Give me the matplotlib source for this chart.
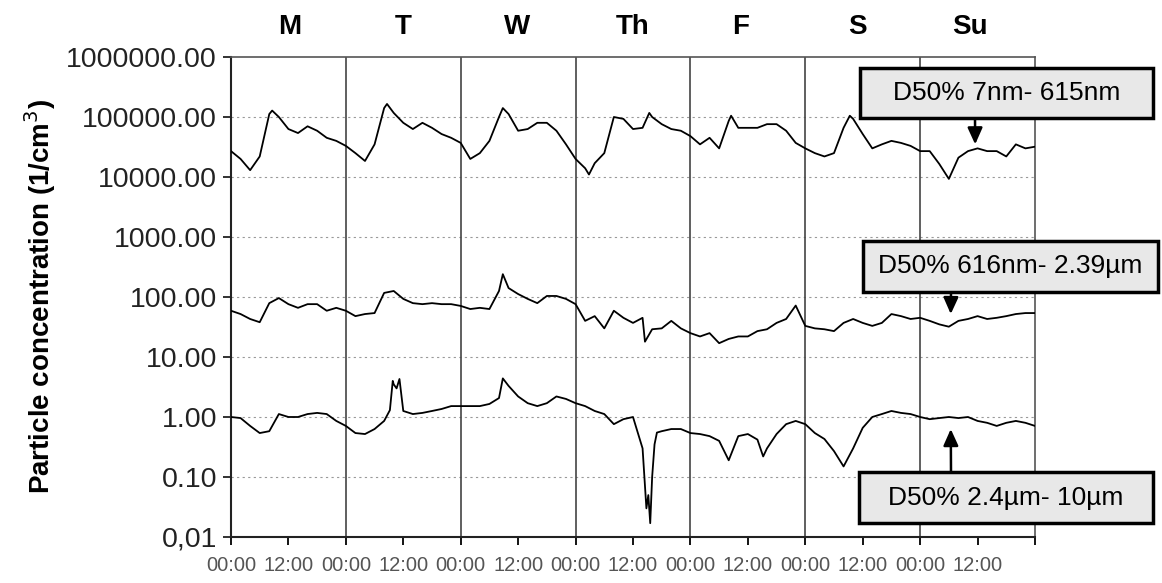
import numpy as np
import matplotlib
matplotlib.use("Agg")
import matplotlib.pyplot as plt
from matplotlib.patches import Rectangle
from matplotlib.transforms import blended_transform_factory

plt.rcParams['font.family'] = ['Liberation Sans', 'DejaVu Sans']

# time axis: hours since Monday 00:00, every 2 hours
hours = np.arange(0, 169, 2)

# D50% 7nm - 615nm (1/cm3)
conc_fine = [27000, 20000, 13000, 22000, 112000, 100000, 63000, 54000, 70000, 59000, 45000, 40000,
             33000, 25000, 18500, 35000, 141000, 117000, 80000, 63000, 80000, 66000, 52000, 45000,
             37000, 20000, 25000, 40000, 100000, 112000, 59000, 63000, 80000, 80000, 59000, 35000,
             20000, 14000, 17000, 25000, 100000, 93000, 63000, 66000, 100000, 76000, 63000, 59000,
             48000, 35000, 45000, 30000, 86000, 66000, 66000, 66000, 76000, 76000, 59000, 37000,
             30000, 25000, 22000, 25000, 66000, 93000, 52000, 30000, 35000, 40000, 37000, 33000,
             27000, 27000, 16500, 9300, 21000, 27000, 30000, 27000, 27000, 22000, 35000, 30000, 32000]
fine_extra_h = [8.6, 32.6, 56.8, 74.8, 87.4, 104.5, 129.3]
fine_extra_v = [128000, 165000, 141000, 11000, 117000, 105000, 105000]

# D50% 616nm - 2.39um
conc_mid = [59, 52, 43, 38, 79, 96, 76, 66, 76, 76, 59, 66,
            59, 48, 52, 54, 117, 126, 93, 79, 76, 79, 76, 76,
            71, 63, 66, 63, 126, 141, 112, 93, 79, 104, 104, 93,
            76, 40, 48, 30, 59, 45, 37, 45, 29, 30, 40, 30,
            25, 22, 25, 17, 20, 22, 22, 27, 29, 37, 43, 72,
            33, 30, 29, 27, 37, 43, 37, 33, 37, 52, 48, 43,
            45, 40, 35, 32, 40, 43, 48, 43, 45, 48, 52, 54, 54]
mid_extra_h = [56.8, 86.5]
mid_extra_v = [240, 18]

# D50% 2.4um - 10um
conc_coarse = [1.0, 0.96, 0.71, 0.54, 0.58, 1.12, 1.0, 1.0, 1.12, 1.17, 1.12, 0.86,
               0.71, 0.54, 0.52, 0.63, 0.86, 3.5, 1.26, 1.12, 1.17, 1.26, 1.36, 1.52,
               1.52, 1.52, 1.52, 1.65, 2.07, 3.3, 2.2, 1.7, 1.52, 1.7, 2.2, 2.0,
               1.7, 1.52, 1.26, 1.12, 0.76, 0.92, 1.0, 0.3, 0.1, 0.58, 0.63, 0.63,
               0.54, 0.52, 0.48, 0.4, 0.19, 0.48, 0.52, 0.42, 0.3, 0.52, 0.76, 0.86,
               0.76, 0.54, 0.43, 0.27, 0.15, 0.3, 0.66, 1.0, 1.12, 1.26, 1.17, 1.12,
               1.0, 0.92, 0.96, 1.0, 0.96, 1.0, 0.86, 0.8, 0.71, 0.8, 0.86, 0.8, 0.71]
coarse_extra_h = [33.2, 33.8, 34.6, 35.2, 56.8, 86.8, 87.2, 87.6, 88.5, 89.0, 111.2]
coarse_extra_v = [1.3, 4.0, 3.0, 4.3, 4.4, 0.03, 0.05, 0.017, 0.35, 0.55, 0.22]

days = ['M', 'T', 'W', 'Th', 'F', 'S', 'Su']
day_label_h = [12.3, 35.9, 59.8, 84, 106.4, 130.8, 154.4]
ytick_vals = [0.01, 0.1, 1, 10, 100, 1000, 10000, 100000, 1000000]
ytick_labels = ['0,01', '0.10', '1.00', '10.00', '100.00', '1000.00',
                '10000.00', '100000.00', '1000000.00']
box_texts = ['D50% 7nm- 615nm', 'D50% 616nm- 2.39µm', 'D50% 2.4µm- 10µm']


def merged(h, v, eh, ev):
    x = np.concatenate([h, eh])
    y = np.concatenate([v, ev])
    order = np.argsort(x)
    return x[order], y[order]


W, H = 1162, 583
fig = plt.figure(figsize=(W / 100, H / 100), dpi=100)
ax = fig.add_axes([231 / W, 1 - 537 / H, (1035 - 231) / W, (537 - 57) / H])

for h, v, eh, ev in [(hours, conc_fine, fine_extra_h, fine_extra_v),
                     (hours, conc_mid, mid_extra_h, mid_extra_v),
                     (hours, conc_coarse, coarse_extra_h, coarse_extra_v)]:
    x, y = merged(h, v, eh, ev)
    ax.plot(x, y, color='black', lw=1.3, zorder=3)

ax.set_yscale('log')
ax.set_ylim(0.01, 1000000)
ax.set_xlim(0, 168)
ax.set_yticks(ytick_vals)
ax.set_yticklabels(ytick_labels)
ax.yaxis.set_minor_locator(matplotlib.ticker.NullLocator())
ax.tick_params(axis='y', labelsize=20.5, length=6, width=1.3, colors='#222222', pad=4)

xt = np.arange(0, 169, 12)
ax.set_xticks(xt)
ax.set_xticklabels(['00:00' if t % 24 == 0 else '12:00' for t in xt[:-1]] + [''])
ax.tick_params(axis='x', labelsize=14.5, length=6, width=1.3, labelcolor='#555555', pad=8)

for yv in ytick_vals[1:-1]:
    ax.axhline(yv, color='#999999', lw=0.8, ls=(0, (2, 3)), zorder=1)
for d in range(24, 168, 24):
    ax.axvline(d, color='#444444', lw=1.2, zorder=2)

for s in ['left', 'bottom']:
    ax.spines[s].set_linewidth(1.5)
    ax.spines[s].set_color('#222222')
for s in ['top', 'right']:
    ax.spines[s].set_linewidth(1.2)
    ax.spines[s].set_color('#555555')

tr = blended_transform_factory(ax.transData, ax.transAxes)
for lab, h in zip(days, day_label_h):
    ax.text(h, 1.0625, lab, transform=tr, ha='center', va='center',
            fontsize=20, fontweight='bold')

fig.text(40 / W, 1 - 297 / H, 'Particle concentration (1/cm$^3$)', rotation=90,
         ha='center', va='center', fontsize=20, fontweight='bold')

# annotation boxes (pixel layout) and arrows pointing at the series
boxes = [(860, 68, 1153, 118), (863, 241, 1158, 292), (859, 472, 1153, 523)]
arrows = [((975, 118), (155.5, 35000)), ((951, 292), (150.4, 52)), ((951, 472), (150.4, 0.63))]
for (x0, y0, x1, y1), txt, (start, tip) in zip(boxes, box_texts, arrows):
    fig.add_artist(Rectangle((x0 / W, 1 - y1 / H), (x1 - x0) / W, (y1 - y0) / H,
                             transform=fig.transFigure, facecolor='#e8e8e8',
                             edgecolor='black', lw=2.5, zorder=5))
    fig.text((x0 + x1) / 2 / W, 1 - (y0 + y1) / 2 / H, txt, ha='center', va='center',
             fontsize=19, zorder=6)
    ax.annotate('', xy=tip, xycoords='data',
                xytext=(start[0] / W, 1 - start[1] / H), textcoords='figure fraction',
                arrowprops=dict(arrowstyle='-|>,head_length=1.0,head_width=0.45',
                                color='black', lw=1.8, shrinkA=0, shrinkB=0),
                annotation_clip=False, zorder=6)

fig.savefig('out.png', dpi=100, facecolor='white')
